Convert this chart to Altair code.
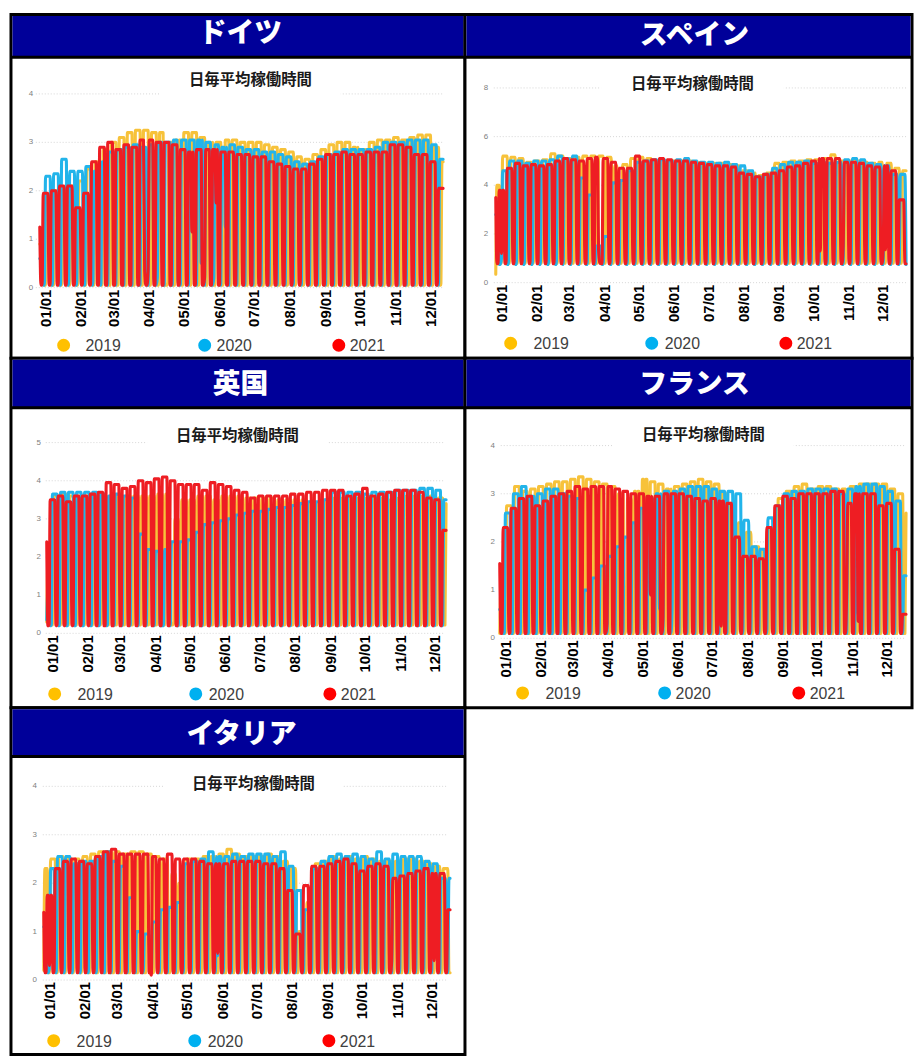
import datetime as dt
import altair as alt
import pandas as pd

alt.data_transformers.disable_max_rows()

TITLE = "日毎平均稼働時間"
YEARS = ["2019", "2020", "2021"]
LEGEND_COLORS = ["#FFC000", "#00B0F0", "#FF0000"]
LINE_COLORS = ["#F7C23A", "#22B4EA", "#EE1D23"]
MONTH_LABELS = ["01/01", "02/01", "03/01", "04/01", "05/01", "06/01",
                "07/01", "08/01", "09/01", "10/01", "11/01", "12/01"]
MONTH_START_DAY = [0, 31, 59, 90, 120, 151, 181, 212, 243, 273, 304, 334]

# ---- weekly weekday levels (week 0 = week containing Jan 1) ----
DE_2019 = [0.9, 1.9, 2.0, 2.05, 2.1, 2.2, 2.45, 2.6, 2.85, 3.0, 3.1, 3.2, 3.25,
           3.25, 3.2, 3.2, 3.0, 3.05, 3.2, 3.2, 3.1, 3.0, 3.0, 3.05, 3.05, 3.0,
           3.0, 3.0, 2.95, 2.9, 2.85, 2.8, 2.7, 2.65, 2.75, 2.85, 2.95, 3.0, 3.0,
           2.9, 2.85, 3.0, 3.05, 3.05, 3.1, 3.05, 3.1, 3.15, 3.15, 2.9, 2.6, 2.0]
DE_2020 = [0.6, 2.3, 2.35, 2.65, 2.4, 2.4, 2.5, 2.4, 2.6, 2.8, 2.85, 2.9, 2.95,
           2.9, 2.95, 3.0, 3.0, 3.05, 3.05, 3.05, 3.05, 3.0, 2.95, 2.9, 2.95, 2.9,
           2.85, 2.85, 2.8, 2.8, 2.75, 2.7, 2.6, 2.55, 2.6, 2.7, 2.75, 2.8, 2.85,
           2.85, 2.85, 2.85, 2.9, 3.0, 3.0, 3.0, 3.05, 3.05, 3.05, 2.95, 2.65, 1.4]
DE_2021 = [1.25, 1.95, 2.0, 2.1, 2.1, 1.65, 1.95, 2.6, 2.9, 3.0, 2.85, 2.95, 2.9,
           3.05, 3.05, 3.0, 3.0, 2.95, 2.85, 2.8, 2.85, 2.85, 2.85, 2.8, 2.8, 2.75,
           2.75, 2.7, 2.7, 2.6, 2.55, 2.5, 2.45, 2.45, 2.55, 2.65, 2.75, 2.75, 2.8,
           2.75, 2.75, 2.8, 2.8, 2.8, 2.95, 2.95, 2.9, 2.75, 2.75, 2.6, 2.05, 1.0]
DE_LOW = [0.05, 0.05, 0.05]
DE_2019_DAYS = {"04-19": 0.1, "04-22": 0.1, "05-01": 0.1, "05-30": 0.3, "06-10": 0.2, "10-03": 0.3}
DE_2020_DAYS = {"04-10": 0.2, "04-13": 0.2, "05-01": 0.15, "05-21": 0.5, "06-01": 0.2, "06-11": 1.25}
DE_2021_DAYS = {"04-02": 0.35, "04-05": 0.35, "05-13": 1.15, "05-24": 0.2, "06-03": 1.75}

ES_2019 = [4.0, 5.2, 5.15, 5.1, 4.95, 5.0, 5.05, 5.3, 5.2, 5.1, 5.15, 5.2, 5.2,
           5.2, 5.15, 4.8, 4.85, 5.1, 5.15, 5.1, 5.0, 5.0, 5.0, 5.0, 5.0, 4.95,
           4.9, 4.9, 4.9, 4.85, 4.8, 4.6, 4.5, 4.4, 4.5, 4.9, 4.95, 5.0, 5.0,
           5.05, 5.05, 5.1, 5.25, 5.0, 5.0, 5.0, 4.95, 4.9, 4.95, 4.9, 4.7, 4.6]
ES_2020 = [2.8, 4.6, 5.0, 5.0, 4.9, 5.0, 5.0, 5.05, 5.2, 5.1, 5.2, 4.3, 3.6,
           1.5, 1.9, 4.1, 4.2, 4.6, 4.95, 5.0, 5.05, 5.05, 5.0, 5.05, 5.1, 5.0,
           4.95, 4.95, 4.9, 4.95, 4.85, 4.8, 4.6, 4.35, 4.45, 4.7, 4.85, 4.95, 4.95,
           5.0, 4.9, 4.95, 4.9, 4.95, 5.05, 5.1, 5.05, 4.9, 4.85, 4.8, 4.45, 4.45]
ES_2021 = [3.5, 3.8, 4.7, 4.9, 4.8, 4.85, 4.8, 4.85, 5.0, 5.1, 5.05, 5.0, 5.1,
           5.15, 5.1, 4.95, 4.7, 4.7, 5.2, 5.0, 5.05, 5.1, 5.05, 5.0, 5.0, 4.95,
           4.9, 4.85, 4.8, 4.8, 4.75, 4.5, 4.45, 4.35, 4.45, 4.5, 4.6, 4.75, 4.8,
           4.9, 5.0, 5.1, 5.1, 5.1, 4.95, 4.95, 4.9, 4.8, 4.75, 4.8, 4.6, 3.4]
ES_LOW = [0.8, 0.75, 0.78]
ES_2019_DAYS = {"01-01": 0.35, "04-18": 1.6, "04-19": 1.6, "08-15": 1.4, "12-06": 1.5}
ES_2020_DAYS = {"01-06": 1.0}
ES_2021_DAYS = {"01-06": 1.2, "04-01": 1.3, "04-02": 0.8, "10-12": 1.3, "11-01": 1.5,
                "12-06": 1.35, "12-08": 1.35}

UK_2019 = [1.8, 3.6, 3.65, 3.6, 3.6, 3.6, 3.6, 3.6, 3.6, 3.6, 3.6, 3.6, 3.6,
           3.6, 3.65, 3.65, 3.0, 3.5, 3.5, 3.6, 3.6, 3.5, 3.6, 3.6, 3.6, 3.55,
           3.55, 3.55, 3.55, 3.5, 3.5, 3.5, 3.5, 3.45, 3.4, 3.5, 3.55, 3.55, 3.55,
           3.55, 3.55, 3.55, 3.55, 3.5, 3.55, 3.6, 3.6, 3.6, 3.6, 3.55, 3.4, 3.2]
UK_2020 = [1.1, 3.65, 3.7, 3.7, 3.7, 3.7, 3.7, 3.65, 3.6, 3.65, 3.6, 3.55, 2.6,
           2.2, 2.15, 2.2, 2.4, 2.4, 2.45, 2.65, 2.85, 2.9, 2.95, 3.0, 3.1, 3.15,
           3.2, 3.2, 3.25, 3.3, 3.3, 3.35, 3.4, 3.45, 3.45, 3.5, 3.7, 3.7, 3.7,
           3.7, 3.65, 3.7, 3.7, 3.7, 3.75, 3.75, 3.75, 3.8, 3.8, 3.75, 3.5, 3.3]
UK_2021 = [2.4, 3.5, 3.6, 3.45, 3.6, 3.6, 3.65, 3.7, 3.95, 3.9, 3.8, 3.85, 4.0,
           3.95, 4.05, 4.1, 4.0, 3.9, 3.9, 3.9, 3.75, 3.95, 3.9, 3.85, 3.75, 3.7,
           3.55, 3.6, 3.6, 3.6, 3.6, 3.65, 3.65, 3.7, 3.7, 3.75, 3.75, 3.75, 3.6,
           3.65, 3.8, 3.6, 3.65, 3.7, 3.75, 3.75, 3.75, 3.7, 3.55, 3.5, 2.7, 2.0]
UK_LOW = [0.22, 0.2, 0.2]
UK_2019_DAYS = {"01-01": 0.3, "04-19": 0.3, "04-22": 0.3}
UK_2020_DAYS = {"01-01": 0.35, "04-10": 0.2, "04-13": 0.2}
UK_2021_DAYS = {}

FR_2019 = [1.0, 2.75, 3.15, 3.05, 3.1, 3.15, 3.2, 3.25, 3.25, 3.3, 3.35, 3.3, 3.25,
           3.2, 3.15, 3.0, 2.9, 3.05, 3.3, 3.25, 3.2, 3.1, 3.15, 3.2, 3.25, 3.3,
           3.25, 3.2, 3.0, 2.8, 2.4, 2.2, 1.9, 1.8, 2.3, 2.9, 3.05, 3.15, 3.2,
           3.1, 3.15, 3.15, 3.1, 3.1, 3.15, 3.2, 3.2, 3.2, 3.2, 3.1, 3.0, 2.6]
FR_2020 = [0.6, 2.6, 3.0, 3.15, 2.95, 3.0, 3.1, 3.1, 3.0, 2.95, 2.9, 1.0, 1.25,
           1.5, 1.7, 1.9, 2.1, 2.4, 2.7, 2.9, 3.0, 3.05, 3.05, 3.1, 3.15, 3.15,
           3.15, 3.1, 3.05, 3.05, 3.0, 2.45, 1.9, 1.85, 2.5, 2.75, 3.0, 3.05, 3.05,
           3.1, 3.1, 3.1, 3.1, 3.0, 3.1, 3.15, 3.2, 3.2, 3.15, 3.05, 2.85, 1.3]
FR_2021 = [1.55, 2.3, 2.7, 2.9, 2.95, 2.75, 2.85, 2.95, 3.0, 3.05, 3.15, 3.1, 3.15,
           3.15, 3.15, 3.1, 3.05, 3.0, 3.0, 2.95, 2.95, 3.0, 3.0, 3.0, 2.95, 2.9,
           2.85, 2.9, 2.85, 2.8, 2.1, 1.7, 1.7, 1.65, 2.3, 2.75, 2.95, 2.9, 3.0,
           3.0, 3.0, 3.0, 3.05, 3.05, 2.8, 3.0, 3.0, 3.0, 2.75, 2.8, 1.85, 0.5]
FR_LOW = [0.1, 0.1, 0.1]
FR_2019_DAYS = {"01-01": 0.1, "04-22": 0.3, "05-01": 0.2, "05-08": 0.3, "05-30": 0.35,
                "11-01": 0.4, "11-11": 0.4}
FR_2020_DAYS = {"05-01": 0.2, "05-08": 0.3, "05-21": 0.6, "06-01": 0.6, "11-11": 0.5}
FR_2021_DAYS = {"04-05": 0.3, "05-13": 0.9, "05-24": 0.4, "07-14": 0.25, "11-01": 1.0,
                "11-11": 0.35}

IT_2019 = [2.3, 2.5, 2.55, 2.5, 2.5, 2.55, 2.6, 2.65, 2.65, 2.65, 2.6, 2.65, 2.65,
           2.6, 2.55, 2.5, 2.2, 2.0, 2.5, 2.5, 2.55, 2.55, 2.6, 2.7, 2.6, 2.55,
           2.55, 2.55, 2.6, 2.55, 2.45, 2.3, 1.0, 1.6, 2.4, 2.45, 2.55, 2.5, 2.55,
           2.5, 2.55, 2.5, 2.45, 2.45, 2.45, 2.5, 2.5, 2.45, 2.4, 2.35, 2.3, 2.2]
IT_2020 = [1.1, 2.3, 2.55, 2.55, 2.4, 2.45, 2.45, 2.55, 2.65, 2.45, 2.35, 1.7, 1.0,
           0.95, 1.2, 1.45, 1.5, 1.6, 2.4, 2.45, 2.5, 2.65, 2.55, 2.55, 2.6, 2.55,
           2.6, 2.6, 2.6, 2.55, 2.65, 2.35, 1.85, 1.45, 2.3, 2.45, 2.55, 2.6, 2.55,
           2.6, 2.55, 2.5, 2.65, 2.5, 2.6, 2.55, 2.55, 2.55, 2.45, 2.4, 2.1, 2.1]
IT_2021 = [1.4, 1.75, 2.3, 2.45, 2.5, 2.45, 2.4, 2.55, 2.65, 2.7, 2.6, 2.6, 2.6,
           2.6, 2.55, 2.5, 2.6, 2.5, 2.5, 2.5, 2.45, 2.4, 2.4, 2.4, 2.45, 2.45,
           2.45, 2.45, 2.4, 2.4, 2.3, 1.85, 0.95, 1.95, 2.35, 2.35, 2.4, 2.45, 2.5,
           2.4, 2.25, 2.35, 2.4, 2.35, 2.1, 2.15, 2.2, 2.25, 2.3, 2.2, 2.2, 1.45]
IT_LOW = [0.15, 0.15, 0.15]
IT_2019_DAYS = {"01-01": 0.2, "04-22": 0.3, "04-25": 0.4, "05-01": 0.2}
IT_2020_DAYS = {"01-06": 0.3, "06-02": 0.5}
IT_2021_DAYS = {"01-06": 0.3, "04-05": 0.1, "06-02": 0.55, "11-01": 0.4, "12-08": 0.4}


def to_daily(year, peaks, low, special, last_day):
    rows = []
    jan1 = dt.date(year, 1, 1)
    d = jan1
    while True:
        if d.month == 2 and d.day == 29:
            x = 58.5
        else:
            x = dt.date(2021, d.month, d.day).timetuple().tm_yday - 1
        if x > last_day:
            break
        w = (d.timetuple().tm_yday - 1 + jan1.weekday()) // 7
        v = peaks[w] if d.weekday() < 5 else low
        key = d.strftime("%m-%d")
        if key in special:
            v = special[key]
        rows.append({"day": x, "value": v})
        d += dt.timedelta(days=1)
    return pd.DataFrame(rows)


JP = "Noto Sans CJK JP"
LAT = "Liberation Sans"
NAVY = "#000099"

# layout (pixels inside each panel; box-relative y values are shifted by header height)
PANELS = [
    dict(name="ドイツ", w=457, dx=1, h=303, hh=43, hx=231, hy=20, ymax=4, ticks=[0, 1, 2, 3, 4],
         end=350, x0=28, x1=434, y0=232, yt=37, ylx=19, gx=(24, 434),
         title=(240, 23), mask=(149, 331), xly=234, ly=290,
         lc=[52, 194, 329], lt=[74, 206, 340],
         series=[(2019, DE_2019, DE_LOW[0], DE_2019_DAYS),
                 (2020, DE_2020, DE_LOW[1], DE_2020_DAYS),
                 (2021, DE_2021, DE_LOW[2], DE_2021_DAYS)]),
    dict(name="スペイン", w=450, dx=4, h=303, hh=43, hx=231, hy=22, ymax=8, ticks=[0, 2, 4, 6, 8],
         end=359, x0=27, x1=440, y0=227, yt=31, ylx=17, gx=(25, 440),
         title=(225, 27), mask=(133, 317), xly=229, ly=288,
         lc=[42, 184, 319], lt=[65, 197, 330],
         series=[(2019, ES_2019, ES_LOW[0], ES_2019_DAYS),
                 (2020, ES_2020, ES_LOW[1], ES_2020_DAYS),
                 (2021, ES_2021, ES_LOW[2], ES_2021_DAYS)]),
    dict(name="英国", w=457, dx=1, h=302, hh=50, hx=231, hy=27, ymax=5, ticks=[0, 1, 2, 3, 4, 5],
         end=349, x0=35, x1=437, y0=227, yt=35, ylx=27, gx=(34, 436),
         title=(227, 28), mask=(136, 318), xly=229, ly=288,
         lc=[43, 185, 320], lt=[66, 198, 331],
         series=[(2019, UK_2019, UK_LOW[0], UK_2019_DAYS),
                 (2020, UK_2020, UK_LOW[1], UK_2020_DAYS),
                 (2021, UK_2021, UK_LOW[2], UK_2021_DAYS)]),
    dict(name="フランス", w=450, dx=4, h=302, hh=50, hx=231, hy=27, ymax=4, ticks=[0, 1, 2, 3, 4],
         end=356, x0=31, x1=440, y0=232, yt=38, ylx=24, gx=(32, 440),
         title=(236, 27), mask=(145, 327), xly=234, ly=287,
         lc=[54, 197, 332], lt=[77, 208, 343],
         series=[(2019, FR_2019, FR_LOW[0], FR_2019_DAYS),
                 (2020, FR_2020, FR_LOW[1], FR_2020_DAYS),
                 (2021, FR_2021, FR_LOW[2], FR_2021_DAYS)]),
    dict(name="イタリア", w=457, dx=1, h=300, hh=49, hx=232, hy=27, ymax=4, ticks=[0, 1, 2, 3, 4],
         end=355, x0=32, x1=441, y0=225, yt=30, ylx=23, gx=(31, 439),
         title=(243, 28), mask=(153, 333), xly=227, ly=286,
         lc=[42, 184, 319], lt=[65, 197, 330],
         series=[(2019, IT_2019, IT_LOW[0], IT_2019_DAYS),
                 (2020, IT_2020, IT_LOW[1], IT_2020_DAYS),
                 (2021, IT_2021, IT_LOW[2], IT_2021_DAYS)]),
]


def one(**kw):
    return pd.DataFrame({k: [v] for k, v in kw.items()})


def make_panel(p):
    hh = p["hh"]
    w = p["w"]
    dx = p["dx"]
    xs = alt.Scale(domain=[0, p["end"]], range=[p["x0"] + dx, p["x1"] + dx], nice=False, zero=False)
    ys = alt.Scale(domain=[0, p["ymax"]], range=[p["y0"] + hh, p["yt"] + hh], nice=False)

    header_bg = alt.Chart(one(m=0)).mark_rect(color=NAVY).encode(
        x=alt.value(1.5), x2=alt.value(w - 1.5), y=alt.value(1.5), y2=alt.value(hh))
    header_line = alt.Chart(one(m=0)).mark_rule(color="black", strokeWidth=3).encode(
        x=alt.value(0), x2=alt.value(w), y=alt.value(hh))
    header_text = alt.Chart(one(n=p["name"])).mark_text(
        font=JP, fontSize=28, fontWeight=900, color="white", baseline="middle"
    ).encode(text="n:N", x=alt.value(p["hx"]), y=alt.value(p["hy"]))

    tick_df = pd.DataFrame({"v": p["ticks"], "lab": [str(t) for t in p["ticks"]]})
    grid = alt.Chart(tick_df).mark_rule(color="#d6d6d6", strokeDash=[1, 2], strokeWidth=1).encode(
        y=alt.Y("v:Q", scale=ys, axis=None),
        x=alt.value(p["gx"][0] + dx), x2=alt.value(p["gx"][1] + dx))
    mask = alt.Chart(one(m=0)).mark_rect(color="white").encode(
        x=alt.value(p["mask"][0] + dx), x2=alt.value(p["mask"][1] + dx),
        y=alt.value(p["title"][1] - 11 + hh),
        y2=alt.value(max(p["yt"], p["title"][1]) + 3 + hh))
    title = alt.Chart(one(t=TITLE)).mark_text(
        font=JP, fontSize=15.5, fontWeight="bold", color="#1a1a1a", baseline="middle"
    ).encode(text="t:N", x=alt.value(p["title"][0] + dx), y=alt.value(p["title"][1] + hh))
    ylabels = alt.Chart(tick_df).mark_text(
        font=LAT, fontSize=8, color="#808080", align="center", baseline="middle"
    ).encode(y=alt.Y("v:Q", scale=ys, axis=None), x=alt.value(p["ylx"] + dx), text="lab:N")

    lines = []
    for (year, peaks, low, special), col in zip(p["series"], LINE_COLORS):
        df = to_daily(year, peaks, low, special, p["end"])
        lines.append(alt.Chart(df).mark_line(
            color=col, strokeWidth=3.1, interpolate="monotone",
            strokeJoin="round", strokeCap="round"
        ).encode(x=alt.X("day:Q", scale=xs, axis=None),
                 y=alt.Y("value:Q", scale=ys, axis=None)))

    xlab_df = pd.DataFrame({"day": MONTH_START_DAY, "lab": MONTH_LABELS})
    xlabels = alt.Chart(xlab_df).mark_text(
        font=LAT, fontSize=15, fontWeight="bold", color="black", angle=270,
        align="right", baseline="middle", xOffset=6
    ).encode(x=alt.X("day:Q", scale=xs, axis=None), y=alt.value(p["xly"] + hh), text="lab:N")

    legend = []
    for yr, col, cx, tx in zip(YEARS, LEGEND_COLORS, p["lc"], p["lt"]):
        legend.append(alt.Chart(one(yr=yr)).mark_circle(size=170, opacity=1, color=col).encode(
            x=alt.value(cx + dx), y=alt.value(p["ly"] + hh)))
        legend.append(alt.Chart(one(yr=yr)).mark_text(
            font=LAT, fontSize=16, color="#404040", align="left", baseline="middle"
        ).encode(text="yr:N", x=alt.value(tx + dx), y=alt.value(p["ly"] + hh + 1)))

    return alt.layer(header_bg, header_line, header_text, grid, mask, title, ylabels,
                     *lines, xlabels, *legend).properties(
        width=w, height=hh + p["h"],
        view=alt.ViewBackground(fill="white", stroke="black", strokeWidth=3))


chart = alt.concat(*[make_panel(p) for p in PANELS], columns=2, spacing=0,
                   align="each", bounds="flush").properties(
    padding={"left": 0, "top": 1, "right": 0, "bottom": 0}
).configure(background="white").configure_concat(spacing=0)

chart.save("out.html", embed_options={"renderer": "svg", "actions": False})
